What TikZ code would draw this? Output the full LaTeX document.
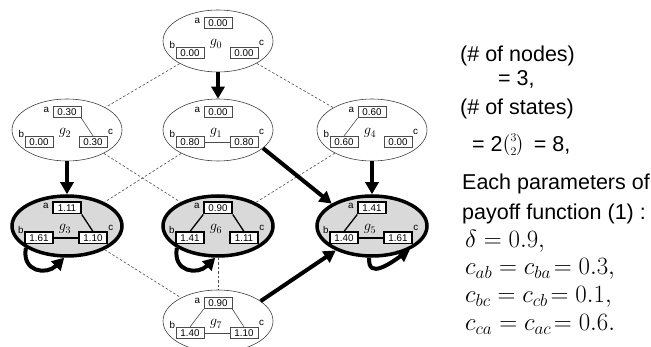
\documentclass[tikz,border=0pt]{standalone}
\usepackage[no-math]{fontspec}
\setmainfont{Liberation Sans}
\usepackage{amsmath}
\usetikzlibrary{shapes.geometric,arrows.meta}
\newcommand{\boxfont}{\fontsize{9.8}{10}\selectfont}
\newcommand{\thinline}{0.6pt}
\newcommand{\gstate}[7]{%
  \node[#7] (g#1) at (#2,#3) {};
  \node[#7box] (g#1a) at (#2,#3+18) {#4};
  \node[#7box] (g#1b) at (#2-28,#3-12) {#5};
  \node[#7box] (g#1c) at (#2+26,#3-12) {#6};
  \node[lbl, anchor=base east] (g#1la) at ([xshift=-3.5pt,yshift=-1pt]g#1a.west) {a};
  \node[lbl, anchor=base east] (g#1lb) at ([xshift=-0.5pt,yshift=-2pt]g#1b.north west) {b};
  \node[lbl, anchor=base west] (g#1lc) at ([xshift=0.5pt,yshift=1pt]g#1c.north east) {c};
  \node[glabel] (g#1n) at (#2-2,#3-5) {$g_{#1}$};
}

\begin{document}
\begin{tikzpicture}[x=1pt,y=1pt,
  state/.style={ellipse, draw=black!75, line width=\thinline, fill=white,
    minimum width=110pt, minimum height=62pt, inner sep=0pt},
  absorb/.style={ellipse, draw=black, line width=3.5pt, fill=gray!30,
    minimum width=110pt, minimum height=60pt, inner sep=0pt},
  statebox/.style={draw=black!70, line width=\thinline, fill=white, font=\boxfont,
    minimum width=28pt, minimum height=11.5pt, inner sep=1pt},
  absorbbox/.style={statebox, draw=black, line width=1.5pt},
  lbl/.style={font=\boxfont, inner sep=0pt},
  glabel/.style={font=\fontsize{14}{14}\selectfont, inner sep=0pt, anchor=base},
  tie/.style={draw=black!70, line width=\thinline},
  boldtie/.style={draw=black, line width=1.3pt},
  link/.style={draw=black!70, line width=\thinline, dash pattern=on 2.5pt off 2pt},
  flow/.style={line width=4pt, -{Triangle[length=12pt,width=13pt]}},
  txt/.style={font=\fontsize{21.5}{24}\selectfont, anchor=base west, inner sep=0pt},
  mtxt/.style={font=\fontsize{23}{26}\selectfont, anchor=base west, inner sep=0pt}]
\useasboundingbox (0,0) rectangle (651,-347);

% states
\gstate{0}{218}{-41}{0.00}{0.00}{0.00}{state}
\gstate{2}{67}{-130}{0.30}{0.00}{0.30}{state}
\gstate{1}{218}{-130}{0.00}{0.80}{0.80}{state}
\gstate{4}{372}{-130}{0.60}{0.60}{0.00}{state}
\gstate{3}{67}{-226}{1.11}{1.61}{1.10}{absorb}
\gstate{6}{218}{-226}{0.90}{1.41}{1.11}{absorb}
\gstate{5}{372}{-226}{1.41}{1.40}{1.61}{absorb}
\gstate{7}{218}{-321}{0.90}{1.40}{1.10}{state}

% links inside the states
\draw[tie] (g2a.south east) -- (g2c.north);
\draw[tie] (g1b.east) -- (g1c.west);
\draw[tie] (g4a.south west) -- (g4b.north);
\draw[boldtie] (g3a.south east) -- (g3c.north);
\draw[boldtie] (g3b.east) -- (g3c.west);
\draw[boldtie] (g6a.south west) -- (g6b.north);
\draw[boldtie] (g6a.south east) -- (g6c.north);
\draw[boldtie] (g5a.south west) -- (g5b.north);
\draw[boldtie] (g5b.east) -- (g5c.west);
\draw[tie] (g7a.south west) -- (g7b.north);
\draw[tie] (g7a.south east) -- (g7c.north);
\draw[tie] (g7b.east) -- (g7c.west);

% neighbouring states
\draw[link] (g0) -- (g2);
\draw[link] (g0) -- (g4);
\draw[link] (g2) -- (g6);
\draw[link] (g1) -- (g3);
\draw[link] (g4) -- (g6);
\draw[link] (g3) -- (g7);
\draw[link] (g6) -- (g7);

% transitions
\draw[flow] (g0) -- (g1);
\draw[flow] (g2) -- (g3);
\draw[flow] (g4) -- (g5);
\draw[flow] (g1.338) -- (g5.151);
\draw[flow] (g7.25) -- (g5.214);
\draw[flow] (g3.208) to[out=260, in=225, looseness=1.6] (g3.265);
\draw[flow] (g6.208) to[out=260, in=225, looseness=1.6] (g6.265);
\draw[flow] (g5.265) to[out=265, in=215, looseness=1.4] (g5.328);

% notes
\node[txt] (t1) at (460,-62) {(\# of nodes)};
\node[txt] (t2) at (498,-86) {= 3,};
\node[txt] (t3) at (460,-115) {(\# of states)};
\node[txt] (t4) at (472,-152) {= 2\raisebox{2.5pt}{\fontsize{18}{18}\selectfont$\binom{3}{2}$}\ \,= 8,};
\node[txt] (t5) at (462,-190) {Each parameters of};
\node[txt] (t6) at (462,-220) {payoff function (1) :};
\node[mtxt] (t7) at (465,-248) {$\delta = 0.9,$};
\node[mtxt] (t8) at (465,-275) {$c_{ab} = c_{ba}\!= 0.3,$};
\node[mtxt] (t9) at (465,-303) {$c_{bc} = c_{cb}\!= 0.1,$};
\node[mtxt] (t10) at (465,-331) {$c_{ca} = c_{ac}\!= 0.6.$};
\end{tikzpicture}
\end{document}
